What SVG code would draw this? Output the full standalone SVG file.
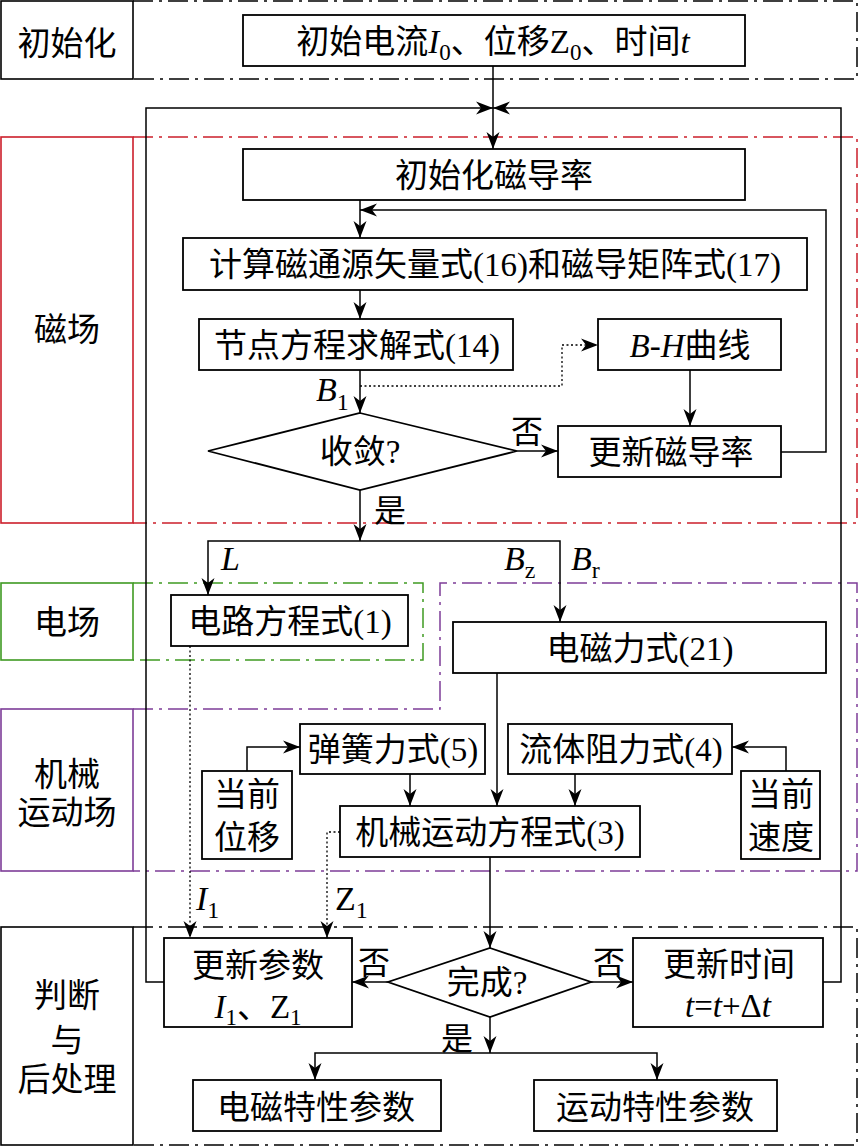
<svg xmlns="http://www.w3.org/2000/svg" width="858" height="1147" viewBox="0 0 858 1147">
<defs>
<marker id="ah" viewBox="-18 -7 19 14" refX="0" refY="0" markerWidth="19" markerHeight="14" markerUnits="userSpaceOnUse" orient="auto-start-reverse">
<path d="M0,0 L-17,-6.5 L-12,0 L-17,6.5 Z" fill="#000"/>
</marker>
<style>
.bg{fill:#fff}
.box{fill:#fff;stroke:#000;stroke-width:1.8}
.lab{fill:none;stroke-width:1.6}
.dd{fill:none;stroke-width:1.5;stroke-dasharray:20 6 3 6}
.ln{fill:none;stroke:#000;stroke-width:1.5}
.dot{fill:none;stroke:#000;stroke-width:1.3;stroke-dasharray:2 2.5}
.t{font-family:"Liberation Serif","Noto Sans CJK SC",serif;font-size:33px;text-anchor:middle;fill:#000}
.s{font-family:"Liberation Serif","Noto Sans CJK SC",serif;font-size:32px;text-anchor:middle;fill:#000}
.m{font-family:"Liberation Serif","Noto Sans CJK SC",serif;font-size:34px;text-anchor:start;fill:#000}
.i{font-style:italic}
.n{font-style:normal}
.k{stroke:#000}
.r{stroke:#cc1f2b}
.g{stroke:#3f9a22}
.p{stroke:#7d3c98}
</style>
</defs>
<rect class="bg" x="0" y="0" width="858" height="1147"/>

<g id="sections">
<g id="sec_init">
<rect class="lab k" x="1" y="1" width="132" height="78"/>
<path class="dd k" d="M133,1 H857 V79 H133"/>
<text class="t" x="67" y="55">初始化</text>
</g>
<g id="sec_mag">
<rect class="lab r" x="1" y="137" width="132" height="386"/>
<path class="dd r" d="M133,137 H857 V523 H133"/>
<text class="t" x="67" y="341">磁场</text>
</g>
<g id="sec_elec">
<rect class="lab g" x="1" y="583" width="132" height="77"/>
<path class="dd g" d="M133,583 H423 V660 H133"/>
<text class="t" x="67" y="634">电场</text>
</g>
<g id="sec_mech">
<rect class="lab p" x="1" y="709" width="132" height="162"/>
<path class="dd p" d="M133,709 H440 V583 H857 V871 H133"/>
<text class="t" x="67" y="786">机械</text>
<text class="t" x="67" y="824">运动场</text>
</g>
<g id="sec_post">
<rect class="lab k" x="1" y="927" width="132" height="218"/>
<path class="dd k" d="M133,927 H857 V1145 H133"/>
<text class="t" x="67" y="1007">判断</text>
<text class="t" x="67" y="1052">与</text>
<text class="t" x="67" y="1091">后处理</text>
</g>
</g>

<g id="connectors">
<path class="ln" d="M493,66 V149" marker-end="url(#ah)"/>
<path class="ln" d="M164,982 H146 V108 H493" marker-end="url(#ah)"/>
<path class="ln" d="M823,982 H841 V108 H493" marker-end="url(#ah)"/>
<path class="ln" d="M360,200 V238" marker-end="url(#ah)"/>
<path class="ln" d="M781,452 H826 V210 H360" marker-end="url(#ah)"/>
<path class="ln" d="M360,290 V319" marker-end="url(#ah)"/>
<path class="ln" d="M360,370 V413" marker-end="url(#ah)"/>
<path class="dot" d="M360,386 H562 V345 H598" marker-end="url(#ah)"/>
<path class="ln" d="M690,370 V426" marker-end="url(#ah)"/>
<path class="ln" d="M517,451 H558" marker-end="url(#ah)"/>
<path class="ln" d="M360,490 V541" marker-end="url(#ah)"/>
<path class="ln" d="M208,595 V541 H560 V622" marker-start="url(#ah)" marker-end="url(#ah)"/>
<path class="dot" d="M190,646 V938" marker-end="url(#ah)"/>
<path class="ln" d="M497,673 V806" marker-end="url(#ah)"/>
<path class="ln" d="M247,771 V747 H300" marker-end="url(#ah)"/>
<path class="ln" d="M786,771 V747 H732" marker-end="url(#ah)"/>
<path class="ln" d="M410,774 V806" marker-end="url(#ah)"/>
<path class="ln" d="M575,774 V806" marker-end="url(#ah)"/>
<path class="dot" d="M340,832 H327 V938" marker-end="url(#ah)"/>
<path class="ln" d="M490,857 V948" marker-end="url(#ah)"/>
<path class="ln" d="M388,982 H352" marker-end="url(#ah)"/>
<path class="ln" d="M591,982 H633" marker-end="url(#ah)"/>
<path class="ln" d="M490,1017 V1053" marker-end="url(#ah)"/>
<path class="ln" d="M315,1080 V1053 H657 V1080" marker-start="url(#ah)" marker-end="url(#ah)"/>
<g id="conn_labels">
<text class="m" x="316" y="401"><tspan class="i">B</tspan><tspan class="n" font-size="24" dy="9">1</tspan></text>
<text class="s" x="527" y="443">否</text>
<text class="s" x="390" y="522">是</text>
<text class="m" x="221" y="570"><tspan class="i">L</tspan></text>
<text class="m" x="504" y="570"><tspan class="i">B</tspan><tspan class="n" font-size="24" dy="8">z</tspan></text>
<text class="m" x="571" y="570"><tspan class="i">B</tspan><tspan class="n" font-size="24" dy="8">r</tspan></text>
<text class="m" x="196" y="910"><tspan class="i">I</tspan><tspan class="n" font-size="24" dy="8">1</tspan></text>
<text class="m" x="335" y="910">Z<tspan font-size="24" dy="8">1</tspan></text>
<text class="s" x="374" y="974">否</text>
<text class="s" x="609" y="974">否</text>
<text class="s" x="457" y="1050">是</text>
</g>
</g>

<g id="n_init"><rect class="box" x="243" y="15" width="502" height="51"/>
<text class="t" x="493" y="53">初始电流<tspan class="i">I</tspan><tspan font-size="23" dy="7">0</tspan><tspan dy="-7">、位移Z</tspan><tspan font-size="23" dy="7">0</tspan><tspan dy="-7">、时间</tspan><tspan class="i">t</tspan></text></g>
<g id="n_initmu"><rect class="box" x="243" y="149" width="502" height="51"/><text class="t" x="494" y="187">初始化磁导率</text></g>
<g id="n_calc"><rect class="box" x="183" y="238" width="624" height="52"/><text class="t" x="495" y="276">计算磁通源矢量式(16)和磁导矩阵式(17)</text></g>
<g id="n_node"><rect class="box" x="199" y="319" width="314" height="51"/><text class="t" x="357" y="357">节点方程求解式(14)</text></g>
<g id="n_bh"><rect class="box" x="598" y="319" width="183" height="51"/><text class="t" x="690" y="357"><tspan class="i">B</tspan>-<tspan class="i">H</tspan>曲线</text></g>
<g id="n_conv"><path class="box" d="M360,413 L517,451 L360,490 L208,451 Z"/><text class="t" x="360" y="463">收敛?</text></g>
<g id="n_updmu"><rect class="box" x="558" y="426" width="223" height="51"/><text class="t" x="671" y="464">更新磁导率</text></g>
<g id="n_circuit"><rect class="box" x="171" y="595" width="237" height="51"/><text class="t" x="290" y="633">电路方程式(1)</text></g>
<g id="n_emf"><rect class="box" x="453" y="622" width="373" height="51"/><text class="t" x="640" y="660">电磁力式(21)</text></g>
<g id="n_spring"><rect class="box" x="300" y="724" width="185" height="50"/><text class="t" x="393" y="761">弹簧力式(5)</text></g>
<g id="n_fluid"><rect class="box" x="508" y="724" width="224" height="50"/><text class="t" x="621" y="761">流体阻力式(4)</text></g>
<g id="n_curdisp"><rect class="box" x="202" y="771" width="90" height="88"/><text class="t" x="247" y="806">当前</text><text class="t" x="247" y="849">位移</text></g>
<g id="n_curvel"><rect class="box" x="741" y="771" width="79" height="88"/><text class="t" x="781" y="806">当前</text><text class="t" x="781" y="849">速度</text></g>
<g id="n_mech"><rect class="box" x="340" y="806" width="300" height="51"/><text class="t" x="490" y="844">机械运动方程式(3)</text></g>
<g id="n_updparam"><rect class="box" x="164" y="938" width="188" height="89"/><text class="t" x="258" y="977">更新参数</text>
<text class="t" x="258" y="1018"><tspan class="i">I</tspan><tspan font-size="23" dy="7">1</tspan><tspan dy="-7">、Z</tspan><tspan font-size="23" dy="7">1</tspan></text></g>
<g id="n_done"><path class="box" d="M490,948 L591,982 L490,1017 L388,982 Z"/><text class="t" x="487" y="994">完成?</text></g>
<g id="n_updtime"><rect class="box" x="633" y="938" width="190" height="89"/><text class="t" x="729" y="976">更新时间</text>
<text class="t" x="728" y="1017"><tspan class="i">t</tspan>=<tspan class="i">t</tspan>+Δ<tspan class="i">t</tspan></text></g>
<g id="n_emchar"><rect class="box" x="193" y="1080" width="248" height="51"/><text class="t" x="316" y="1119">电磁特性参数</text></g>
<g id="n_motchar"><rect class="box" x="534" y="1080" width="243" height="51"/><text class="t" x="655" y="1119">运动特性参数</text></g>
</svg>
